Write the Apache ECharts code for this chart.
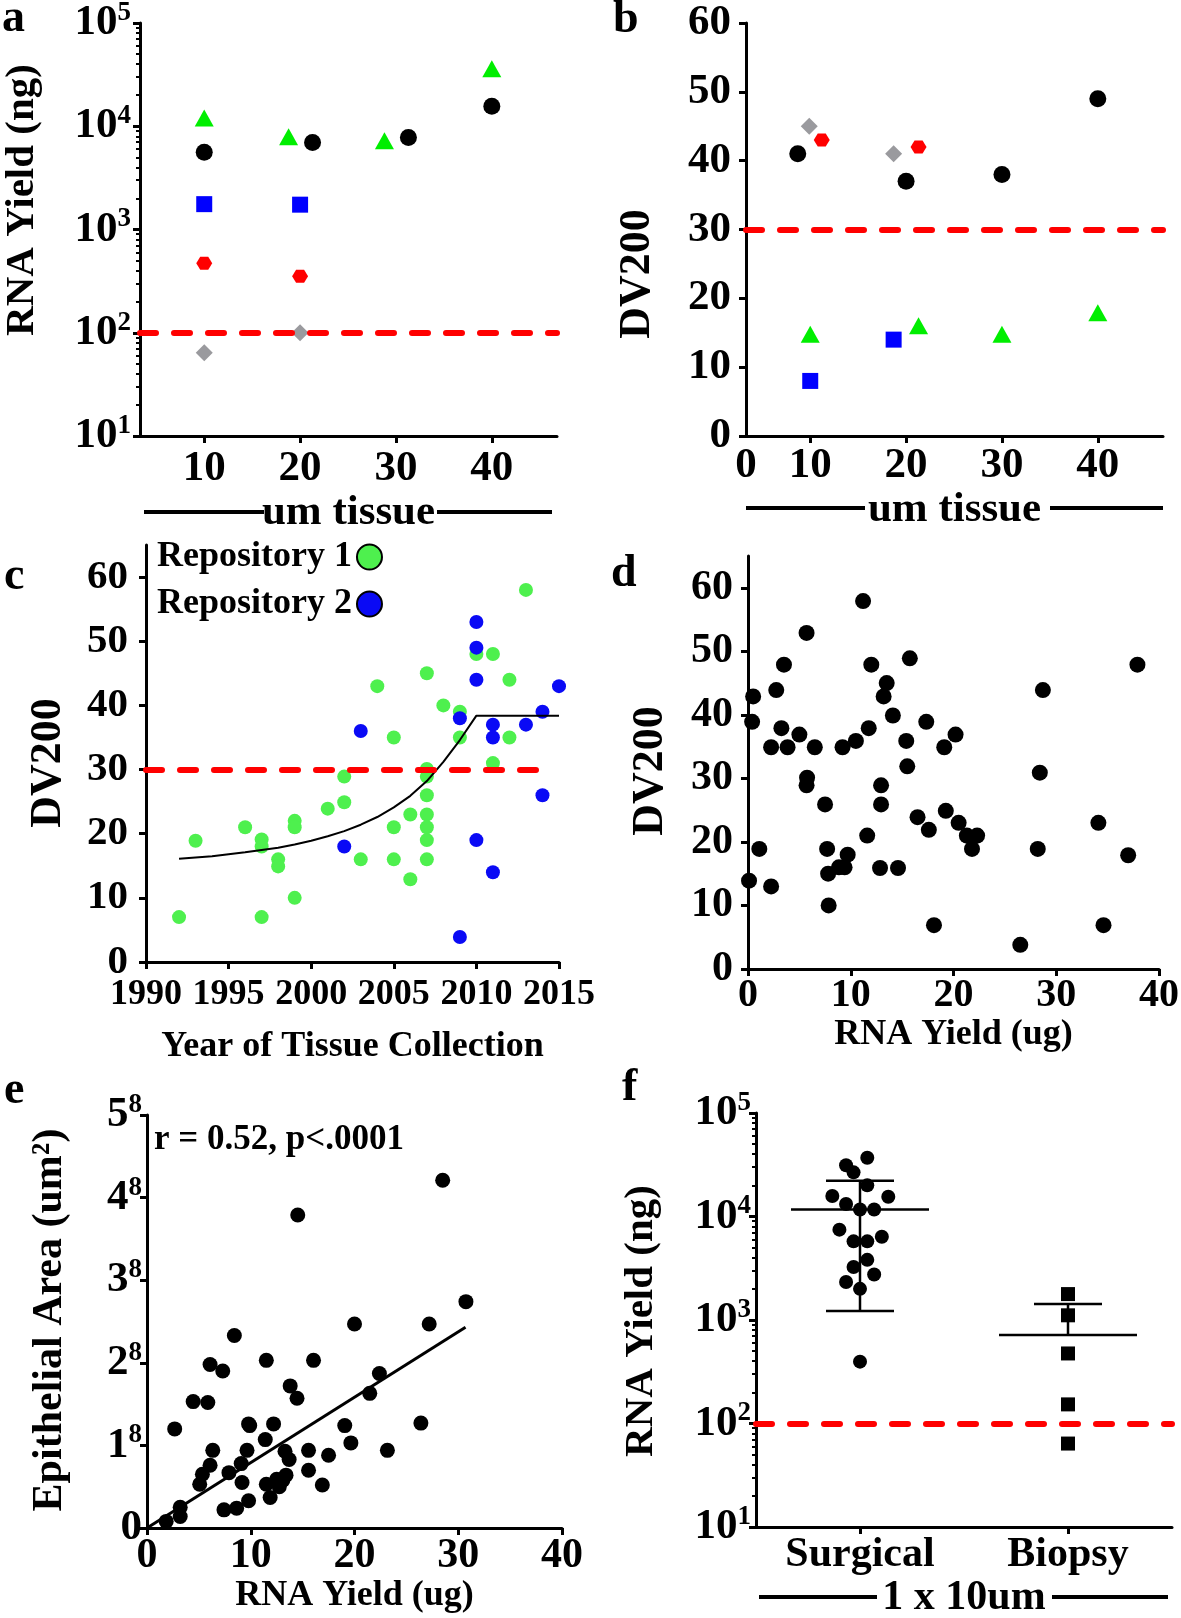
<!DOCTYPE html>
<html>
<head>
<meta charset="utf-8">
<script src="https://cdn.jsdelivr.net/npm/echarts@6/dist/echarts.min.js"></script>
<style>
html, body { margin: 0; padding: 0; background: #fff; }
#main { width: 1181px; height: 1618px; }
</style>
</head>
<body>
<div id="main"></div>
<script>
var FONT = 'Liberation Serif';
var RED = '#ff0000', GREEN = '#00ee00', BLUE = '#0000ff', GRAY = '#9a9a9e';
var GREEN_C = '#4ef04e', BLUE_C = '#0a0af5';

// a: RNA yield (ng) vs um tissue
var aCircle = [[10, 5600], [21.3, 6970], [31.3, 7800], [40, 15600]];
var aTriangle = [[10, 12000], [18.8, 7900], [28.8, 7230], [40, 36000]];
var aSquare = [[10, 1760], [20, 1740]];
var aHexagon = [[10, 470], [20, 352]];
var aDiamond = [[10, 64], [20, 100]];
var aCutoff = 100;

// b: DV200 vs um tissue
var bCircle = [[8.7, 41], [20, 37], [30, 38], [40, 49]];
var bDiamond = [[9.9, 45], [18.7, 41]];
var bHexagon = [[11.2, 43], [21.3, 42]];
var bTriangle = [[10, 14.8], [21.3, 16], [30, 14.8], [40, 17.9]];
var bSquare = [[10, 8], [18.7, 14]];
var bCutoff = 30;

var thickTicks = [10, 20, 30, 40];
var thickLabels = [3.3, 10, 20, 30, 40];   // first one is drawn as "0"
var logTicks = [10, 100, 1000, 10000, 100000];
var dvTicks = [0, 10, 20, 30, 40, 50, 60];

// c: DV200 vs year
var repo1 = [[1992, 7], [1993, 18.9], [1996, 21], [1997, 19.1], [1997, 18], [1997, 7],
  [1998, 16], [1998, 14.9], [1999, 22], [1999, 21], [1999, 10], [2001, 23.9],
  [2002, 28.9], [2002, 24.9], [2003, 16], [2004, 43], [2005, 35], [2005, 21], [2005, 16],
  [2006, 23], [2006, 12.9], [2007, 45], [2007, 30.1], [2007, 28.9], [2007, 26], [2007, 23],
  [2007, 21], [2007, 19], [2007, 16], [2008, 40], [2009, 39], [2009, 35], [2010, 48],
  [2011, 48], [2011, 31], [2012, 44], [2012, 35], [2013, 58]];
var repo2 = [[2002, 18], [2003, 36], [2009, 38], [2009, 3.9], [2010, 53], [2010, 49],
  [2010, 44], [2010, 19], [2011, 37], [2011, 35], [2011, 14], [2013, 37], [2014, 39],
  [2014, 26], [2015, 43]];
var cFit = [[1992, 16.1], [1994, 16.5], [1996, 17.1], [1998, 17.8], [1999, 18.3], [2000, 18.9],
  [2001, 19.6], [2002, 20.4], [2003, 21.4], [2004, 22.6], [2005, 24.1], [2006, 25.9],
  [2007, 28.2], [2008, 31.2], [2009, 34.6], [2010, 38.4], [2015, 38.4]];
var cCutoff = [[1990, 30], [2014, 30]];

// d: DV200 vs RNA yield (ug)
var dPoints = [[0.1, 13.9], [0.4, 38.9], [0.5, 42.9], [1.1, 18.9], [2.25, 34.9], [2.25, 13],
  [2.75, 43.9], [3.25, 37.9], [3.5, 47.9], [3.85, 34.9], [5, 36.9], [5.7, 52.9], [5.75, 30.1],
  [5.7, 28.9], [6.5, 34.9], [7.5, 25.9], [7.7, 18.9], [7.8, 15], [7.85, 10], [8.85, 16],
  [9.4, 16], [9.2, 34.9], [9.7, 18], [10.5, 35.9], [11.2, 57.9], [11.6, 21], [11.75, 37.9],
  [12, 47.9], [12.85, 15.9], [12.95, 28.9], [12.95, 25.9], [13.2, 42.9], [13.5, 45],
  [14.1, 39.9], [14.6, 15.9], [15.4, 35.9], [15.5, 31.9], [15.75, 48.9], [16.5, 23.9],
  [17.35, 38.9], [17.6, 21.9], [18.1, 6.9], [19.1, 34.9], [19.25, 24.9], [20.2, 36.9],
  [20.5, 23], [21.3, 21], [22.3, 21], [21.8, 18.9], [26.5, 3.8], [28.2, 18.9], [28.4, 30.9],
  [28.7, 43.9], [34.1, 23], [34.6, 6.9], [37, 17.9], [37.9, 47.9]];

// e: epithelial area vs RNA yield
var ePoints = [[1.85, 0.08], [3.2, 0.14], [3.2, 0.25], [2.67, 1.2], [4.45, 1.53], [5.08, 0.53],
  [5.34, 0.65], [5.86, 1.52], [6.08, 1.98], [6.08, 0.76], [6.34, 0.94], [7.3, 1.9],
  [7.42, 0.22], [7.9, 0.67], [8.42, 2.33], [8.64, 0.24], [9.08, 0.78], [9.16, 0.55],
  [9.64, 0.94], [9.79, 0.33], [9.79, 1.26], [9.9, 1.24], [11.4, 1.07], [11.5, 0.53],
  [11.5, 2.03], [11.87, 0.37], [12.2, 1.26], [12.5, 0.59], [12.75, 0.5], [13.1, 0.58],
  [13.4, 0.64], [13.3, 0.93], [13.7, 0.83], [13.8, 1.72], [14.46, 1.57], [14.53, 3.79],
  [15.57, 0.94], [15.57, 0.7], [16.05, 2.03], [16.9, 0.52], [17.5, 0.88], [19.06, 1.24],
  [19.65, 1.03], [20, 2.47], [21.47, 1.63], [22.4, 1.87], [23.17, 0.94], [26.4, 1.27],
  [27.2, 2.47], [28.5, 4.21], [30.74, 2.74]];
var eFit = [[0, 0], [30.7, 2.43]];
var eNote = 'r = 0.52, p<.0001';

// f: surgical vs biopsy
var fGroups = ['Surgical', 'Biopsy'];
var fSurgical = [[0.535, 36900], [0.433, 31300], [0.469, 26700], [0.535, 20000], [0.367, 15800],
  [0.636, 15500], [0.433, 13200], [0.5, 11700], [0.568, 11700], [0.401, 7460], [0.605, 6370],
  [0.469, 5750], [0.535, 5750], [0.535, 3810], [0.469, 3250], [0.568, 2750], [0.433, 2330],
  [0.5, 2000], [0.5, 396]];
var fBiopsy = [[1.5, 1780], [1.5, 1110], [1.5, 475], [1.5, 153], [1.5, 64]];
var fMean = [11700, 718];
var fUpper = [22200, 1430];
var fLower = [1220, null];
var fCutoff = 100;

var logMinor = [];
for (var dec = 10; dec < 100000; dec *= 10) {
  for (var k = 2; k <= 9; k++) logMinor.push(k * dec);
}

var HEX = 'path://M0,5 L3,0 L9,0 L12,5 L9,10 L3,10 Z';

function labelStyle(size, margin, extra) {
  var s = { color: '#000', fontFamily: FONT, fontWeight: 'bold', fontSize: size, margin: margin };
  for (var key in extra) s[key] = extra[key];
  return s;
}

function axis(grid, type, min, max, opt) {
  var a = {
    gridIndex: grid, type: type, min: min, max: max,
    axisLine: { show: true, onZero: false, lineStyle: { color: '#000', width: 3 } },
    axisTick: { show: true, length: 7, lineStyle: { color: '#000', width: 3 } },
    axisLabel: labelStyle(43, 10, {}),
    splitLine: { show: false }
  };
  for (var key in opt) {
    if (key === 'axisLabel' || key === 'axisTick') {
      for (var k2 in opt[key]) a[key][k2] = opt[key][k2];
    } else {
      a[key] = opt[key];
    }
  }
  return a;
}

var supRich = {
  b: { fontFamily: FONT, fontWeight: 'bold', fontSize: 43, color: '#000' },
  s: { fontFamily: FONT, fontWeight: 'bold', fontSize: 27, color: '#000', padding: [0, 0, 20, 0] }
};
function powLabel(v) {
  return '{b|10}{s|' + Math.round(Math.log10(v)) + '}';
}
function eLabel(v) {
  return v === 0 ? '{b|0}' : '{b|' + v + '}{s|8}';
}
var nameStyle = function (size) {
  return { color: '#000', fontFamily: FONT, fontWeight: 'bold', fontSize: size };
};

function cutLine(data) {
  return {
    silent: true, symbol: 'none', label: { show: false },
    lineStyle: { color: RED, width: 6, type: [16, 18], cap: 'round' },
    data: data
  };
}

function scatter(name, xi, data, symbol, size, color, z) {
  return {
    name: name, type: 'scatter', xAxisIndex: xi, yAxisIndex: xi,
    data: data, symbol: symbol, symbolSize: size,
    itemStyle: { color: color, opacity: 1 }, z: z || 3, silent: true
  };
}

var chart = echarts.init(document.getElementById('main'));

var grids = [
  { left: 140, top: 23, width: 417, height: 413 },
  { left: 746, top: 23, width: 417, height: 413 },
  { left: 146, top: 545, width: 413, height: 417 },
  { left: 748, top: 556, width: 411, height: 413 },
  { left: 147, top: 1115, width: 415, height: 413 },
  { left: 756, top: 1113, width: 416, height: 414 }
];
grids.forEach(function (g) { g.outerBoundsMode = 'none'; g.containLabel = false; });

var xAxes = [
  axis(0, 'value', 3.3, 46.8, {
    axisTick: { customValues: thickTicks },
    axisLabel: labelStyle(43, 11, { customValues: thickTicks }),
    name: 'um tissue', nameLocation: 'middle', nameGap: 55, nameTextStyle: nameStyle(43)
  }),
  axis(1, 'value', 3.3, 46.8, {
    axisTick: { customValues: thickTicks },
    axisLabel: labelStyle(43, 8, {
      customValues: thickLabels,
      formatter: function (v) { return v < 5 ? '0' : String(v); }
    }),
    name: 'um tissue', nameLocation: 'middle', nameGap: 50, nameTextStyle: nameStyle(43)
  }),
  axis(2, 'value', 1990, 2015, {
    interval: 5,
    axisLabel: labelStyle(36, 15, { formatter: function (v) { return String(v); } }),
    name: 'Year of Tissue Collection', nameLocation: 'middle', nameGap: 67, nameTextStyle: nameStyle(36)
  }),
  axis(3, 'value', 0, 40, {
    interval: 10,
    axisLabel: labelStyle(40, 7, {}),
    name: 'RNA Yield (ug)', nameLocation: 'middle', nameGap: 39, nameTextStyle: nameStyle(36)
  }),
  axis(4, 'value', 0, 40, {
    interval: 10,
    axisLabel: labelStyle(42, 7, {}),
    name: 'RNA Yield (ug)', nameLocation: 'middle', nameGap: 46, nameTextStyle: nameStyle(36)
  }),
  axis(5, 'value', 0, 2, {
    axisTick: { customValues: [0.5, 1.5] },
    axisLabel: labelStyle(42, 7, {
      customValues: [0.5, 1.5],
      formatter: function (v) { return fGroups[Math.floor(v)]; }
    }),
    name: '1 x 10um', nameLocation: 'middle', nameGap: 47, nameTextStyle: nameStyle(42)
  })
];

var yAxes = [
  axis(0, 'log', 10, 100000, {
    logBase: 10,
    axisTick: { customValues: logTicks },
    axisLabel: labelStyle(43, 9, { customValues: logTicks, formatter: powLabel, rich: supRich })
  }),
  axis(1, 'value', 0, 60, {
    interval: 10,
    axisLabel: labelStyle(43, 15, {})
  }),
  axis(2, 'value', 0, 65, {
    axisTick: { customValues: dvTicks },
    axisLabel: labelStyle(41, 18, { customValues: dvTicks })
  }),
  axis(3, 'value', 0, 65, {
    axisTick: { customValues: dvTicks },
    axisLabel: labelStyle(42, 15, { customValues: dvTicks })
  }),
  axis(4, 'value', 0, 5, {
    interval: 1,
    axisLabel: labelStyle(43, 5, { formatter: eLabel, rich: supRich })
  }),
  axis(5, 'log', 10, 100000, {
    logBase: 10,
    axisTick: { customValues: logTicks },
    axisLabel: labelStyle(43, 5, { customValues: logTicks, formatter: powLabel, rich: supRich })
  }),
  // minor ticks for the two log axes
  axis(0, 'log', 10, 100000, {
    logBase: 10, position: 'left',
    axisLine: { show: false },
    axisTick: { customValues: logMinor, length: 4, lineStyle: { color: '#000', width: 2 } }
  }),
  axis(5, 'log', 10, 100000, {
    logBase: 10, position: 'left',
    axisLine: { show: false },
    axisTick: { customValues: logMinor, length: 4, lineStyle: { color: '#000', width: 2 } }
  })
];
yAxes[6].axisLabel = { show: false };
yAxes[7].axisLabel = { show: false };

var series = [
  // a
  { type: 'scatter', xAxisIndex: 0, yAxisIndex: 0, data: [], z: 1, markLine: cutLine([{ yAxis: aCutoff }]) },
  scatter('a-circle', 0, aCircle, 'circle', 17, '#000'),
  scatter('a-triangle', 0, aTriangle, 'triangle', [19, 17], GREEN),
  scatter('a-square', 0, aSquare, 'rect', 16, BLUE),
  scatter('a-hexagon', 0, aHexagon, HEX, [16, 13], RED),
  scatter('a-diamond', 0, aDiamond, 'diamond', 17, GRAY),
  // b
  { type: 'scatter', xAxisIndex: 1, yAxisIndex: 1, data: [], z: 1, markLine: cutLine([{ yAxis: bCutoff }]) },
  scatter('b-circle', 1, bCircle, 'circle', 17, '#000'),
  scatter('b-triangle', 1, bTriangle, 'triangle', [19, 17], GREEN),
  scatter('b-square', 1, bSquare, 'rect', 16, BLUE),
  scatter('b-hexagon', 1, bHexagon, HEX, [16, 13], RED),
  scatter('b-diamond', 1, bDiamond, 'diamond', 17, GRAY),
  // c
  {
    type: 'scatter', xAxisIndex: 2, yAxisIndex: 2, data: [], z: 1,
    markLine: cutLine([[{ coord: cCutoff[0] }, { coord: cCutoff[1] }]])
  },
  scatter('Repository 1', 2, repo1, 'circle', 14, GREEN_C, 2),
  scatter('Repository 2', 2, repo2, 'circle', 14, BLUE_C, 2),
  {
    type: 'line', xAxisIndex: 2, yAxisIndex: 2, data: cFit, showSymbol: false, symbol: 'none',
    lineStyle: { color: '#000', width: 2 }, z: 4, silent: true
  },
  // d
  scatter('d', 3, dPoints, 'circle', 16, '#000'),
  // e
  scatter('e', 4, ePoints, 'circle', 15, '#000'),
  {
    type: 'line', xAxisIndex: 4, yAxisIndex: 4, data: eFit, symbol: 'none',
    lineStyle: { color: '#000', width: 3 }, z: 4, silent: true
  },
  // f
  { type: 'scatter', xAxisIndex: 5, yAxisIndex: 5, data: [], z: 1, markLine: cutLine([{ yAxis: fCutoff }]) },
  scatter('f-surgical', 5, fSurgical, 'circle', 14, '#000'),
  scatter('f-biopsy', 5, fBiopsy, 'rect', 14, '#000'),
  {
    type: 'custom', xAxisIndex: 5, yAxisIndex: 5, z: 4, silent: true,
    encode: { x: 0, y: 1 },
    data: fGroups.map(function (g, i) { return [i + 0.5, fMean[i], fUpper[i], fLower[i]]; }),
    renderItem: function (params, api) {
      var x = api.value(0);
      var c = api.coord([x, api.value(1)]);
      var hi = api.coord([x, api.value(2)]);
      var st = { stroke: '#000', lineWidth: 2.5 };
      var kids = [
        { type: 'line', shape: { x1: c[0] - 69, y1: c[1], x2: c[0] + 69, y2: c[1] }, style: st },
        { type: 'line', shape: { x1: c[0], y1: c[1], x2: c[0], y2: hi[1] }, style: st },
        { type: 'line', shape: { x1: c[0] - 34, y1: hi[1], x2: c[0] + 34, y2: hi[1] }, style: st }
      ];
      var lowVal = api.value(3);
      if (!isNaN(lowVal) && lowVal > 0) {
        var lo = api.coord([x, lowVal]);
        kids.push({ type: 'line', shape: { x1: c[0], y1: c[1], x2: c[0], y2: lo[1] }, style: st });
        kids.push({ type: 'line', shape: { x1: c[0] - 34, y1: lo[1], x2: c[0] + 34, y2: lo[1] }, style: st });
      }
      return { type: 'group', children: kids };
    }
  }
];

function letter(t, x, y) {
  return { type: 'text', style: { text: t, x: x, y: y, fill: '#000', font: 'bold 46px "' + FONT + '"', verticalAlign: 'middle' } };
}
function ytitle(t, x, y, size) {
  return {
    type: 'text', x: x, y: y, rotation: Math.PI / 2,
    style: { text: t, fill: '#000', font: 'bold ' + size + 'px "' + FONT + '"', align: 'center', verticalAlign: 'middle' }
  };
}
function bar(x1, x2, y) {
  return { type: 'line', shape: { x1: x1, y1: y, x2: x2, y2: y }, style: { stroke: '#000', lineWidth: 4 } };
}

var graphics = [
  letter('a', 2, 19), letter('b', 613, 20), letter('c', 4, 577),
  letter('d', 611, 574), letter('e', 4, 1091), letter('f', 622, 1088),
  ytitle('RNA Yield (ng)', 22, 200, 41),
  ytitle('DV200', 638, 274, 44),
  ytitle('DV200', 49, 763, 44),
  ytitle('DV200', 651, 771, 44),
  ytitle('Epithelial Area (um\u00b2)', 50, 1320, 42),
  ytitle('RNA Yield (ng)', 641, 1321, 41),
  bar(144, 264, 512), bar(437, 552, 512),
  bar(746, 865, 508), bar(1050, 1163, 508),
  bar(759, 877, 1597), bar(1052, 1168, 1597),
  { type: 'text', style: { text: eNote, x: 154, y: 1140, fill: '#000', font: 'bold 35px "' + FONT + '"', verticalAlign: 'middle' } }
];

chart.setOption({
  animation: false,
  backgroundColor: '#fff',
  grid: grids,
  xAxis: xAxes,
  yAxis: yAxes,
  legend: {
    data: ['Repository 1', 'Repository 2'],
    orient: 'vertical', left: 152, top: 534, align: 'right',
    itemWidth: 25, itemHeight: 25, itemGap: 11, icon: 'circle',
    itemStyle: { borderColor: '#000', borderWidth: 2 },
    textStyle: { color: '#000', fontFamily: FONT, fontWeight: 'bold', fontSize: 36 },
    selectedMode: false
  },
  series: series,
  graphic: graphics
});
</script>
</body>
</html>
